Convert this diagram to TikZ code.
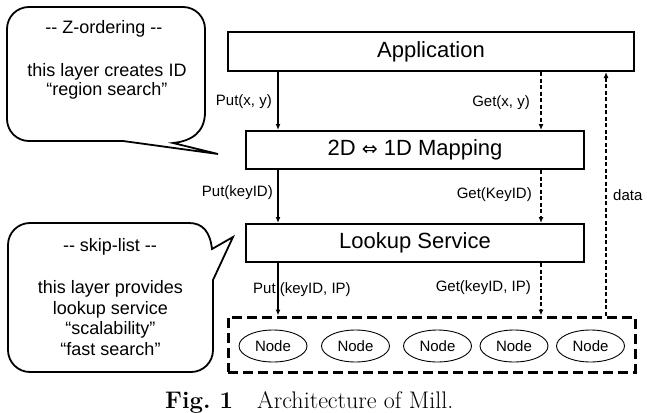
\documentclass[tikz,border=0pt]{standalone}
\usepackage{fontspec}
\newfontfamily\arial{Liberation Sans}
\newfontfamily\djv{DejaVu Sans}
\usetikzlibrary{arrows.meta,shapes.geometric}
\begin{document}
\begin{tikzpicture}[x=1pt,y=-1pt,
  layerbox/.style={draw,line width=2pt,inner sep=0pt,font=\arial\fontsize{22}{26}\selectfont},
  grpbox/.style={draw,line width=3pt,dash pattern=on 10pt off 5pt,inner sep=0pt,minimum width=407pt,minimum height=55pt},
  peer/.style={draw,ellipse,line width=0.9pt,inner sep=0pt,minimum width=68pt,minimum height=32pt,font=\arial\fontsize{15}{18}\selectfont},
  lbl/.style={inner sep=0pt,font=\arial\fontsize{15}{18}\selectfont},
  notetxt/.style={inner sep=0pt,align=center,font=\arial\fontsize{18}{20.6}\selectfont},
  bubble/.style={draw,line width=1.8pt,line join=miter},
  solidarrow/.style={line width=1.4pt,-{Latex[length=6pt,width=5pt]}},
  dasharrow/.style={line width=1.4pt,dash pattern=on 4pt off 2.5pt,-{Latex[length=6pt,width=5pt]}},
]
\useasboundingbox (0,0) rectangle (647,412);

% layer boxes
\node[layerbox,minimum width=406pt,minimum height=39pt] (app) at (431,51.5) {Application};
\node[layerbox,minimum width=338pt,minimum height=38pt] (map) at (415,150) {2D {\djv\fontsize{19}{22}\selectfont ⇔} 1D Mapping};
\node[layerbox,minimum width=338pt,minimum height=38pt] (look) at (415,243) {Lookup Service};
\node[grpbox] (grp) at (431.5,344.5) {};

% peers
\node[peer] (n1) at (273,346) {Node};
\node[peer] (n2) at (355.5,346) {Node};
\node[peer] (n3) at (437.5,346) {Node};
\node[peer] (n4) at (514,346) {Node};
\node[peer] (n5) at (590.5,346) {Node};

% connector x positions
\coordinate (xL) at (278,0);
\coordinate (xR) at (541,0);
\coordinate (xD) at (606,0);

\draw[solidarrow] (xL |- app.south) -- (xL |- map.north);
\draw[dasharrow] (xR |- app.south) -- (xR |- map.north);
\draw[solidarrow] (xL |- map.south) -- (xL |- look.north);
\draw[dasharrow] (xR |- map.south) -- (xR |- look.north);
\draw[solidarrow] (xL |- look.south) -- (xL |- grp.north);
\draw[dasharrow] (xR |- look.south) -- (xR |- grp.north);
\draw[dasharrow] (xD |- grp.north) -- (xD |- app.south);

% labels
\node[lbl,anchor=east] (l1) at (272,102) {Put(x, y)};
\node[lbl,anchor=east] (l2) at (530,103) {Get(x, y)};
\node[lbl,anchor=east] (l3) at (273,193) {Put(keyID)};
\node[lbl,anchor=east] (l4) at (532,195) {Get(KeyID)};
\node[lbl,anchor=west] (l5) at (613,195) {data};
\node[lbl,anchor=west] (l6) at (253,290) {Put (keyID, IP)};
\node[lbl,anchor=east] (l7) at (531,288) {Get(keyID, IP)};

% callout 1
\draw[bubble] (218,154) -- (123,141) -- (29,141) .. controls (16.8,141) and (7,131.2) .. (7,119) -- (7,29) .. controls (7,16.8) and (16.8,7) .. (29,7) -- (183,7) .. controls (195.2,7) and (205,16.8) .. (205,29) -- (205,112) .. controls (205,132) and (192,141) .. (173,143) -- cycle;
\node[notetxt] (c1t) at (104,29) {-{}- Z-ordering -{}-};
\node[notetxt,font=\arial\fontsize{18}{19.5}\selectfont] (c1b) at (107,81.5) {this layer creates ID\\“region search”};

% callout 2
\draw[bubble] (233,237) -- (212,249) .. controls (210,232) and (203,223) .. (189,223) -- (30,223) .. controls (17.8,223) and (8,232.8) .. (8,245) -- (8,350) .. controls (8,362.2) and (17.8,372) .. (30,372) -- (191,372) .. controls (203.2,372) and (213,362.2) .. (213,350) -- (213,280) -- cycle;
\node[notetxt] (c2t) at (110,247) {-{}- skip-list -{}-};
\node[notetxt] (c2b) at (110.5,318) {this layer provides\\lookup service\\“scalability”\\“fast search”};

% caption
\node[inner sep=0pt,anchor=base west,font=\fontsize{24}{28}\selectfont] (cap) at (165,408) {{\bfseries Fig.\ 1}\hspace{24pt}Architecture of Mill.};
\end{tikzpicture}
\end{document}
